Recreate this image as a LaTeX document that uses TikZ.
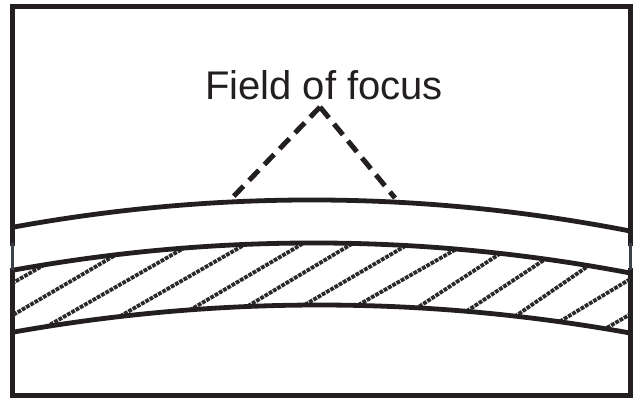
\documentclass[tikz,border=0pt]{standalone}
\usepackage{fontspec}
\setmainfont{Liberation Sans}
\usetikzlibrary{calc}
\definecolor{ink}{HTML}{231F20}
\definecolor{hatchc}{HTML}{2A2A2C}
\definecolor{gapc}{HTML}{3C4048}
\begin{document}
\begin{tikzpicture}[x=1pt,y=-1pt,
  framel/.style={draw=ink,line width=5pt},
  thinframe/.style={draw=gapc,line width=3pt},
  layer/.style={draw=ink,line width=4.8pt},
  pointer/.style={draw=ink,line width=5pt,dash pattern=on 14pt off 8pt},
  hatchl/.style={draw=hatchc,line width=3.8pt,dash pattern=on 3.8pt off 1.1pt},
  lbl/.style={font=\fontsize{40}{44}\selectfont,text=ink,inner sep=0pt,anchor=base}]
\useasboundingbox (0,0) rectangle (637,398);
\fill[white] (0,0) rectangle (637,398);
% frame corners
\coordinate (tl) at (12.5,6.5);
\coordinate (tr) at (630,6.5);
\coordinate (bl) at (12.5,395.5);
\coordinate (br) at (630,395.5);
\coordinate (lg1) at (12.5,243);
\coordinate (lg2) at (12.5,270);
\coordinate (rg1) at (630,243);
\coordinate (rg2) at (630,270);
\draw[framel,line cap=rect] (lg1) -- (tl) -- (tr) -- (rg1);
\draw[framel,line cap=rect] (lg2) -- (bl) -- (br) -- (rg2);
\draw[thinframe] (lg1) -- (lg2);
\draw[thinframe] (rg1) -- (rg2);
% hatching in the band
\begin{scope}
\clip (14,270) .. controls (219.3,233) and (424.7,234) .. (630,273)
      -- (630,333) .. controls (424.7,296) and (219.3,295.7) .. (14,332) -- cycle;
\foreach \bx/\by/\tx/\ty in {-60/325/37/269, 13/315/107/260, 53/323/177/252,
   117/318/237/249, 190/310/297/247, 253/303/350/245, 313/300/407/245,
   360/304/460/247, 420/306/504/251, 470/309/550/256, 520/313/594/262,
   564/319/627/281, 610/326/660/297}{
  \coordinate (hb) at (\bx,\by);
  \coordinate (ht) at (\tx,\ty);
  \draw[hatchl] ($(hb)!-0.4!(ht)$) -- ($(hb)!1.4!(ht)$);
}
\end{scope}
% layers
\draw[layer] (14,227) .. controls (219.3,189.7) and (424.7,191) .. (630,231);
\draw[layer] (14,270) .. controls (219.3,233) and (424.7,234) .. (630,273);
\draw[layer] (14,332) .. controls (219.3,295.7) and (424.7,296) .. (630,333);
% label and pointers
\node[lbl] (label) at (324,100) {Field of focus};
\coordinate (apex) at (320,107);
\coordinate (lend) at (232,198);
\coordinate (rend) at (395,198);
\draw[pointer] (apex) -- (lend);
\draw[pointer] (apex) -- (rend);
\end{tikzpicture}
\end{document}
